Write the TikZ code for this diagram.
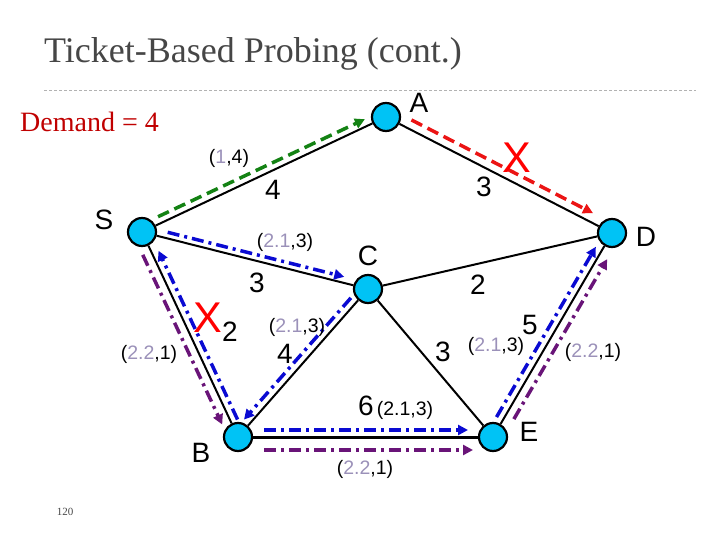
\documentclass[tikz,border=0pt]{standalone}
\usepackage{fontspec}
\setmainfont{Liberation Serif}
\setsansfont{Liberation Sans}
\usetikzlibrary{arrows.meta,calc,backgrounds}
\definecolor{nodecyan}{RGB}{0,195,245}
\definecolor{titlegrey}{RGB}{70,70,70}
\definecolor{demandred}{RGB}{192,0,0}
\definecolor{tktgrey}{RGB}{155,145,185}
\definecolor{probegreen}{RGB}{20,130,20}
\definecolor{probered}{RGB}{235,20,20}
\definecolor{probeblue}{RGB}{10,10,210}
\definecolor{probepurple}{RGB}{105,20,120}
\newcommand{\tkt}[2]{(\textcolor{tktgrey}{#1},#2)}
\tikzset{
  router/.style={circle, draw=black, line width=2.2pt, fill=nodecyan, minimum size=28pt, inner sep=0pt},
  link/.style={line width=2pt},
  lbl/.style={font=\sffamily\fontsize{28}{28}\selectfont, inner sep=0pt},
  tktlbl/.style={font=\sffamily\fontsize{19.5}{19.5}\selectfont, inner sep=0pt},
  cross/.style={font=\sffamily\fontsize{43}{43}\selectfont, text=red, inner sep=0pt},
  probe/.style={line width=3.5pt, -{Triangle[length=10pt,width=10pt]}},
  dashprobe/.style={probe, dash pattern=on 12pt off 6pt},
  dotprobe/.style={probe, dash pattern=on 12pt off 5pt on 3pt off 5pt},
}
\begin{document}
\begin{tikzpicture}[x=1pt, y=-1pt]
\useasboundingbox (0,0) rectangle (720,540);
% title
\node[anchor=west, text=titlegrey, font=\fontsize{36}{36}\selectfont, inner sep=0pt] (title) at (44,54) {Ticket-Based Probing (cont.)};
\draw[black!30, line width=0.8pt, dash pattern=on 3pt off 2pt] (44,90) -- (696,90);
\node[anchor=west, text=demandred, font=\fontsize{28}{28}\selectfont, inner sep=0pt] (demand) at (20,122) {Demand = 4};
% routers
\node[router] (A) at (386,117) {};
\node[router] (S) at (142,232) {};
\node[router] (D) at (612,233) {};
\node[router] (C) at (368,289) {};
\node[router] (B) at (238,437) {};
\node[router] (E) at (493,437) {};
% links
\begin{scope}[on background layer]
\draw[link] (S) -- (A);
\draw[link] (A) -- (D);
\draw[link] (S) -- (C);
\draw[link] (S) -- (B);
\draw[link] (C) -- (D);
\draw[link] (C) -- (B);
\draw[link] (C) -- (E);
\draw[link] (D) -- (E);
\draw[link, line width=3pt] (B) -- (E);
\end{scope}
% router names
\node[lbl] (lA) at (419,103) {A};
\node[lbl] (lS) at (104,220) {S};
\node[lbl] (lD) at (646,237) {D};
\node[lbl] (lC) at (368,256) {C};
\node[lbl] (lB) at (201,453) {B};
\node[lbl] (lE) at (529,432) {E};
% weights
\node[lbl] (wSA) at (273,190) {4};
\node[lbl] (wAD) at (484,187) {3};
\node[lbl] (wSC) at (257,283) {3};
\node[lbl] (wCD) at (478,285) {2};
\node[lbl] (wSB) at (230,332) {2};
\node[lbl] (wCB) at (285,354) {4};
\node[lbl] (wCE) at (443,352) {3};
\node[lbl] (wDE) at (530,325) {5};
\node[lbl] (wBE) at (366,406) {6};
% probes
\draw[dashprobe, probegreen, shorten <=21pt, shorten >=20pt] ($(S)!7pt!90:(A)$) -- ($(A)!7pt!-90:(S)$);
\draw[dashprobe, probered, shorten <=24pt, shorten >=26pt] ($(A)!9pt!90:(D)$) -- ($(D)!9pt!-90:(A)$);
\draw[dotprobe, probeblue, shorten <=25pt, shorten >=26pt] ($(S)!6pt!90:(C)$) -- ($(C)!6pt!-90:(S)$);
\draw[dotprobe, probeblue, shorten <=18pt, shorten >=17pt] ($(C)!7pt!-90:(B)$) -- ($(B)!7pt!90:(C)$);
\draw[dotprobe, probeblue, shorten <=16pt, shorten >=24pt] ($(B)!7pt!-90:(S)$) -- ($(S)!7pt!90:(B)$);
\draw[dotprobe, probepurple, shorten <=21pt, shorten >=18pt] ($(S)!9pt!-90:(B)$) -- ($(B)!9pt!90:(S)$);
\draw[dotprobe, probeblue, shorten <=26pt, shorten >=25pt] ($(B)!7pt!90:(E)$) -- ($(E)!7pt!-90:(B)$);
\draw[dotprobe, probepurple, shorten <=26pt, shorten >=20pt] ($(B)!13pt!-90:(E)$) -- ($(E)!13pt!90:(B)$);
\draw[dotprobe, probeblue, shorten <=19pt, shorten >=20pt] ($(E)!7pt!90:(D)$) -- ($(D)!7pt!-90:(E)$);
\draw[dotprobe, probepurple, shorten <=26pt, shorten >=25pt] ($(E)!9pt!-90:(D)$) -- ($(D)!9pt!90:(E)$);
% failures
\node[cross] (xAD) at (517,158) {X};
\node[cross] (xSB) at (208,318) {X};
% tickets
\node[tktlbl] (tSA) at (229,158) {\tkt{1}{4}};
\node[tktlbl] (tSC) at (285,242) {\tkt{2.1}{3}};
\node[tktlbl] (tCB) at (297,327) {\tkt{2.1}{3}};
\node[tktlbl] (tSB) at (149,354) {\tkt{2.2}{1}};
\node[tktlbl] (tBE) at (405,410) {(2.1,3)};
\node[tktlbl] (tBEp) at (365,469) {\tkt{2.2}{1}};
\node[tktlbl] (tED) at (496,346) {\tkt{2.1}{3}};
\node[tktlbl] (tEDp) at (593,352) {\tkt{2.2}{1}};
% page number
\node[text=titlegrey, font=\fontsize{11}{11}\selectfont, inner sep=0pt] (page) at (65,512) {120};
\end{tikzpicture}
\end{document}
